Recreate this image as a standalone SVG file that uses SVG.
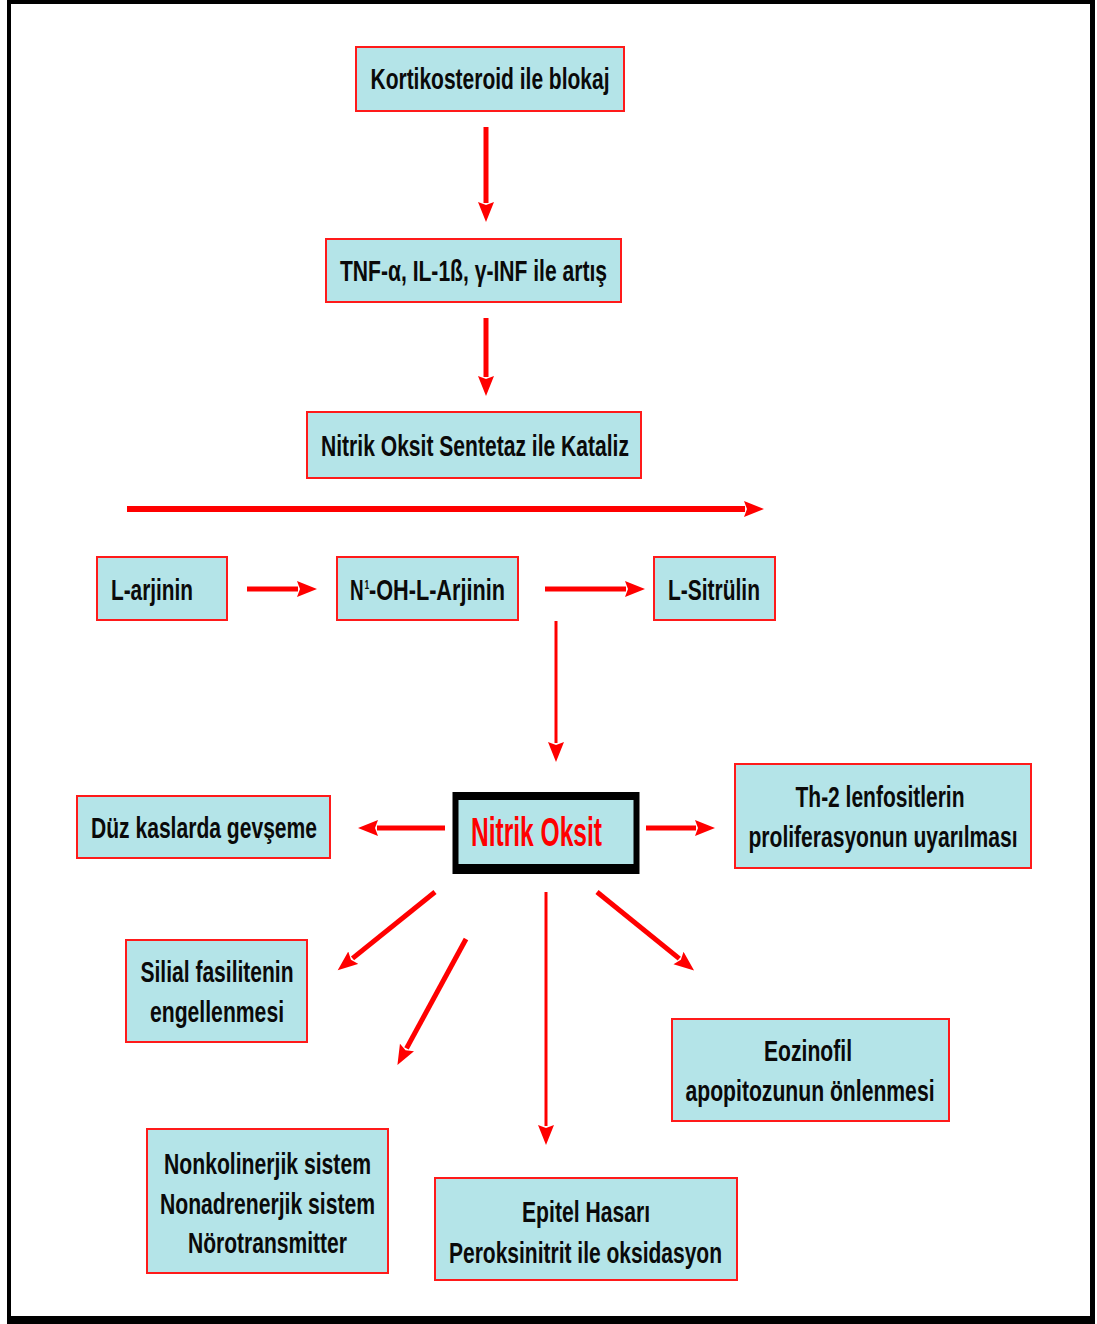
<svg xmlns="http://www.w3.org/2000/svg" width="1097" height="1324" viewBox="0 0 1097 1324">
<style>
.box{fill:#b4e4e8;stroke:#ff1a1a;stroke-width:2}
.t{font-family:"Liberation Sans",Arial,sans-serif;font-weight:bold;font-size:29px;fill:#0a0a0a;text-anchor:middle}
.s{text-anchor:start}
.big{font-family:"Liberation Sans",Arial,sans-serif;font-weight:bold;font-size:40px;fill:#ff0000;text-anchor:middle}
.a{stroke:#ff0000;stroke-width:5;fill:none;marker-end:url(#h)}
.thin{stroke:#ff0000;stroke-width:3;fill:none;marker-end:url(#h)}
</style>
<defs>
<marker id="h" markerUnits="userSpaceOnUse" markerWidth="22" markerHeight="18" refX="1" refY="8" orient="auto">
<path d="M0,0 L20,8 L0,16 L3,8 z" fill="#ff0000"/>
</marker>
</defs>
<rect x="0" y="0" width="1097" height="1324" fill="#ffffff"/>
<path d="M7,0 H1095 V1324 H7 Z M11,4 V1316 H1090 V4 Z" fill="#000" fill-rule="evenodd"/>

<g id="connectors">
<line class="a" x1="486" y1="127" x2="486" y2="203"/>
<line class="a" x1="486" y1="318" x2="486" y2="377"/>
<line class="a" x1="127" y1="509" x2="745" y2="509" style="stroke-width:6"/>
<line class="a" x1="247" y1="589" x2="298" y2="589"/>
<line class="a" x1="545" y1="589" x2="626" y2="589"/>
<line class="thin" x1="556" y1="621" x2="556" y2="743"/>
<line class="a" x1="445" y1="828" x2="377" y2="828"/>
<line class="a" x1="646" y1="828" x2="696" y2="828"/>
<line class="a" x1="435" y1="892" x2="352.5" y2="958.4"/>
<line class="a" x1="466" y1="939" x2="406.5" y2="1048.4"/>
<line class="thin" x1="546" y1="892" x2="546" y2="1126"/>
<line class="a" x1="597" y1="892" x2="679.3" y2="958.6"/>
</g>

<g id="n1"><rect class="box" x="356" y="47" width="268" height="64"/><text class="t" transform="translate(490,89) scale(0.65,1)" textLength="367.7" lengthAdjust="spacingAndGlyphs">Kortikosteroid ile blokaj</text></g>
<g id="n2"><rect class="box" x="326" y="239" width="295" height="63"/><text class="t" transform="translate(473.5,281) scale(0.65,1)" textLength="410.8" lengthAdjust="spacingAndGlyphs">TNF-α, IL-1ß, γ-INF ile artış</text></g>
<g id="n3"><rect class="box" x="307" y="412" width="334" height="66"/><text class="t" transform="translate(475,456) scale(0.65,1)" textLength="473.8" lengthAdjust="spacingAndGlyphs">Nitrik Oksit Sentetaz ile Kataliz</text></g>
<g id="n4"><rect class="box" x="97" y="557" width="130" height="63"/><text class="t" transform="translate(152,600) scale(0.65,1)" textLength="126.2" lengthAdjust="spacingAndGlyphs">L-arjinin</text></g>
<g id="n5"><rect class="box" x="337" y="557" width="181" height="63"/><text class="t s" transform="translate(350,600) scale(0.65,1)">N</text><text class="t s" transform="translate(364.5,589) scale(0.65,1)" style="font-size:13px">1</text><text class="t s" transform="translate(369,600) scale(0.65,1)" textLength="209.2" lengthAdjust="spacingAndGlyphs">-OH-L-Arjinin</text></g>
<g id="n6"><rect class="box" x="654" y="557" width="121" height="63"/><text class="t" transform="translate(714,600) scale(0.65,1)" textLength="141.5" lengthAdjust="spacingAndGlyphs">L-Sitrülin</text></g>
<g id="n7"><rect x="455.5" y="795" width="181" height="76" fill="#b4e4e8" stroke="#000" stroke-width="6"/><rect x="453" y="792" width="186" height="8" fill="#000"/><rect x="453" y="864" width="186" height="10" fill="#000"/><text class="big" transform="translate(536.5,846) scale(0.65,1)" textLength="201.5" lengthAdjust="spacingAndGlyphs">Nitrik Oksit</text></g>
<g id="n8"><rect class="box" x="77" y="796" width="253" height="62"/><text class="t" transform="translate(204,838) scale(0.65,1)" textLength="347.7" lengthAdjust="spacingAndGlyphs">Düz kaslarda gevşeme</text></g>
<g id="n9"><rect class="box" x="735" y="764" width="296" height="104"/><text class="t" transform="translate(880,807) scale(0.65,1)" textLength="260" lengthAdjust="spacingAndGlyphs">Th-2 lenfositlerin</text><text class="t" transform="translate(883,847) scale(0.65,1)" textLength="413.8" lengthAdjust="spacingAndGlyphs">proliferasyonun uyarılması</text></g>
<g id="n10"><rect class="box" x="126" y="940" width="181" height="102"/><text class="t" transform="translate(217,982) scale(0.65,1)" textLength="235.4" lengthAdjust="spacingAndGlyphs">Silial fasilitenin</text><text class="t" transform="translate(217,1022) scale(0.65,1)" textLength="206.2" lengthAdjust="spacingAndGlyphs">engellenmesi</text></g>
<g id="n11"><rect class="box" x="672" y="1019" width="277" height="102"/><text class="t" transform="translate(808,1061) scale(0.65,1)" textLength="135.4" lengthAdjust="spacingAndGlyphs">Eozinofil</text><text class="t" transform="translate(810,1101) scale(0.65,1)" textLength="383.1" lengthAdjust="spacingAndGlyphs">apopitozunun önlenmesi</text></g>
<g id="n12"><rect class="box" x="147" y="1129" width="241" height="144"/><text class="t" transform="translate(267.5,1174) scale(0.65,1)" textLength="318.5" lengthAdjust="spacingAndGlyphs">Nonkolinerjik sistem</text><text class="t" transform="translate(267.5,1214) scale(0.65,1)" textLength="330.8" lengthAdjust="spacingAndGlyphs">Nonadrenerjik sistem</text><text class="t" transform="translate(267.5,1253) scale(0.65,1)" textLength="244.6" lengthAdjust="spacingAndGlyphs">Nörotransmitter</text></g>
<g id="n13"><rect class="box" x="435" y="1178" width="302" height="102"/><text class="t" transform="translate(586,1222) scale(0.65,1)" textLength="196.9" lengthAdjust="spacingAndGlyphs">Epitel Hasarı</text><text class="t" transform="translate(585.5,1263) scale(0.65,1)" textLength="420" lengthAdjust="spacingAndGlyphs">Peroksinitrit ile oksidasyon</text></g>
</svg>
